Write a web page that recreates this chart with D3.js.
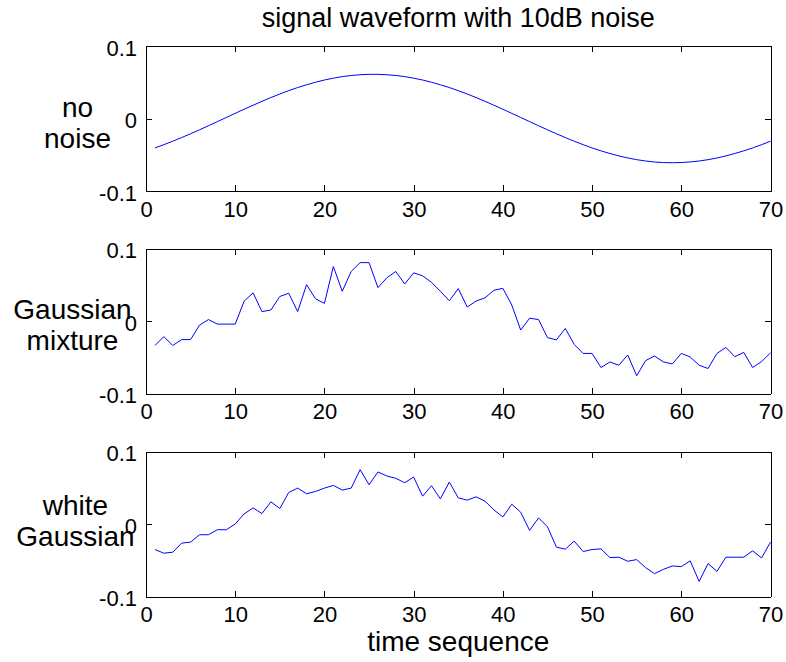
<!DOCTYPE html>
<html>
<head>
<meta charset="utf-8">
<script src="https://cdn.jsdelivr.net/npm/d3@7"></script>
<style>
  body { margin: 0; background: #fff; }
  svg text { font-family: Arial, "Liberation Sans", Helvetica, sans-serif; fill: #000; }
</style>
</head>
<body>
<svg id="chart" width="786" height="662"></svg>
<script>
/********************************************************
 ********************* Data *****************************
 ********************************************************/
// samples 1..70
var noNoise = [
  -0.0406, -0.0361, -0.0313, -0.0263, -0.0210, -0.0156, -0.0100, -0.0043, 0.0014, 0.0071,
  0.0128, 0.0183, 0.0237, 0.0289, 0.0338, 0.0384, 0.0427, 0.0465, 0.0500, 0.0531,
  0.0556, 0.0578, 0.0593, 0.0604, 0.0609, 0.0609, 0.0604, 0.0593, 0.0578, 0.0556,
  0.0531, 0.0500, 0.0465, 0.0427, 0.0384, 0.0338, 0.0289, 0.0237, 0.0183, 0.0128,
  0.0071, 0.0014, -0.0043, -0.0100, -0.0156, -0.0210, -0.0263, -0.0313, -0.0361, -0.0406,
  -0.0446, -0.0483, -0.0516, -0.0544, -0.0568, -0.0586, -0.0600, -0.0608, -0.0610, -0.0607,
  -0.0599, -0.0586, -0.0568, -0.0544, -0.0516, -0.0483, -0.0446, -0.0406, -0.0361, -0.0313
];

var gaussMixture = [
  -0.0338, -0.0215, -0.0338, -0.0256, -0.0256, -0.0057, 0.0020, -0.0043, -0.0043, -0.0043,
  0.0274, 0.0388, 0.0129, 0.0152, 0.0338, 0.0383, 0.0129, 0.0501, 0.0306, 0.0243,
  0.0751, 0.0410, 0.0683, 0.0805, 0.0805, 0.0460, 0.0596, 0.0683, 0.0510, 0.0664,
  0.0624, 0.0533, 0.0410, 0.0279, 0.0447, 0.0193, 0.0274, 0.0320, 0.0424, 0.0451,
  0.0220, -0.0125, 0.0039, 0.0020, -0.0229, -0.0261, -0.0102, -0.0324, -0.0447, -0.0447,
  -0.0642, -0.0565, -0.0610, -0.0469, -0.0755, -0.0546, -0.0483, -0.0565, -0.0592, -0.0447,
  -0.0497, -0.0610, -0.0655, -0.0447, -0.0365, -0.0492, -0.0433, -0.0642, -0.0560, -0.0438
];

var whiteGauss = [
  -0.0352, -0.0403, -0.0389, -0.0264, -0.0250, -0.0148, -0.0148, -0.0079, -0.0079, 0.0000,
  0.0139, 0.0222, 0.0144, 0.0306, 0.0213, 0.0435, 0.0495, 0.0417, 0.0449, 0.0495,
  0.0532, 0.0468, 0.0495, 0.0750, 0.0542, 0.0718, 0.0662, 0.0630, 0.0569, 0.0648,
  0.0384, 0.0528, 0.0347, 0.0579, 0.0361, 0.0329, 0.0375, 0.0315, 0.0194, 0.0097,
  0.0273, 0.0162, -0.0088, 0.0083, -0.0037, -0.0319, -0.0347, -0.0236, -0.0380, -0.0352,
  -0.0343, -0.0463, -0.0458, -0.0514, -0.0491, -0.0602, -0.0685, -0.0625, -0.0579, -0.0588,
  -0.0509, -0.0792, -0.0546, -0.0653, -0.0458, -0.0458, -0.0458, -0.0370, -0.0468, -0.0250
];

var xTicks = [0, 10, 20, 30, 40, 50, 60, 70];
var yTicks = [-0.1, 0, 0.1];
var yTickLabels = ["-0.1", "0", "0.1"];
var panelNames = [["no", "noise"], ["Gaussian", "mixture"], ["white", "Gaussian"]];
var titleText = "signal waveform with 10dB noise";
var xLabelText = "time sequence";

/********************************************************
 ********************* Layout ***************************
 ********************************************************/
var svg = d3.select("#chart");
var left = 146, right = 770.5, panelH = 145;
var panelTops = [46, 248.5, 451.5];
var labelX = [77.5, 72.5, 75.5];
var labelShift = [0, 0, -7];
var series = [noNoise, gaussMixture, whiteGauss];

var x = d3.scaleLinear().domain([0, 70]).range([left, right]);

/********************************************************
 ********************* Panels ***************************
 ********************************************************/
series.forEach(function(values, p) {
  var top = panelTops[p], bottom = top + panelH;
  var y = d3.scaleLinear().domain([-0.1, 0.1]).range([bottom, top]);

  // line
  var line = d3.line()
    .x(function(d, i) { return x(i + 1); })
    .y(function(d) { return y(d); });

  svg.append("path")
    .datum(values)
    .attr("d", line)
    .attr("fill", "none")
    .attr("stroke", "#0000ff")
    .attr("stroke-width", 1);

  // bottom axis with labels, ticks pointing inward
  var gb = svg.append("g")
    .attr("transform", "translate(0," + bottom + ")")
    .call(d3.axisBottom(x).tickValues(xTicks).tickSizeInner(-6).tickSizeOuter(0).tickPadding(10)
      .tickFormat(function(d) { return d; }));

  // top axis, no labels
  var gt = svg.append("g")
    .attr("transform", "translate(0," + top + ")")
    .call(d3.axisTop(x).tickValues(xTicks).tickSizeInner(-6).tickSizeOuter(0).tickFormat(""));

  // left axis
  var gl = svg.append("g")
    .attr("transform", "translate(" + left + ",0)")
    .call(d3.axisLeft(y).tickValues(yTicks).tickSizeInner(-6).tickSizeOuter(0).tickPadding(9)
      .tickFormat(function(d, i) { return yTickLabels[i]; }));

  // right axis, no labels
  var gr = svg.append("g")
    .attr("transform", "translate(" + right + ",0)")
    .call(d3.axisRight(y).tickValues(yTicks).tickSizeInner(-6).tickSizeOuter(0).tickFormat(""));

  [gb, gt, gl, gr].forEach(function(g) {
    g.selectAll("path.domain").attr("stroke", "#000").attr("shape-rendering", "crispEdges");
    g.selectAll(".tick line").attr("stroke", "#000").attr("shape-rendering", "crispEdges");
    g.selectAll("text")
      .attr("font-family", "Arial, 'Liberation Sans', sans-serif")
      .attr("font-size", 22)
      .attr("fill", "#000");
  });
  gl.selectAll("text").attr("dy", "0.42em");

  // panel name on the left
  var zeroY = y(0) + labelShift[p];
  svg.append("text")
    .attr("x", labelX[p])
    .attr("y", zeroY - 2)
    .attr("text-anchor", "middle")
    .attr("font-size", 28)
    .text(panelNames[p][0]);
  svg.append("text")
    .attr("x", labelX[p])
    .attr("y", zeroY + 29)
    .attr("text-anchor", "middle")
    .attr("font-size", 28)
    .text(panelNames[p][1]);
});

/********************************************************
 ********************* Title / x label ******************
 ********************************************************/
svg.append("text")
  .attr("x", (left + right) / 2)
  .attr("y", 27)
  .attr("text-anchor", "middle")
  .attr("font-size", 27)
  .text(titleText);

svg.append("text")
  .attr("x", (left + right) / 2)
  .attr("y", 651)
  .attr("text-anchor", "middle")
  .attr("font-size", 28)
  .text(xLabelText);
</script>
</body>
</html>
